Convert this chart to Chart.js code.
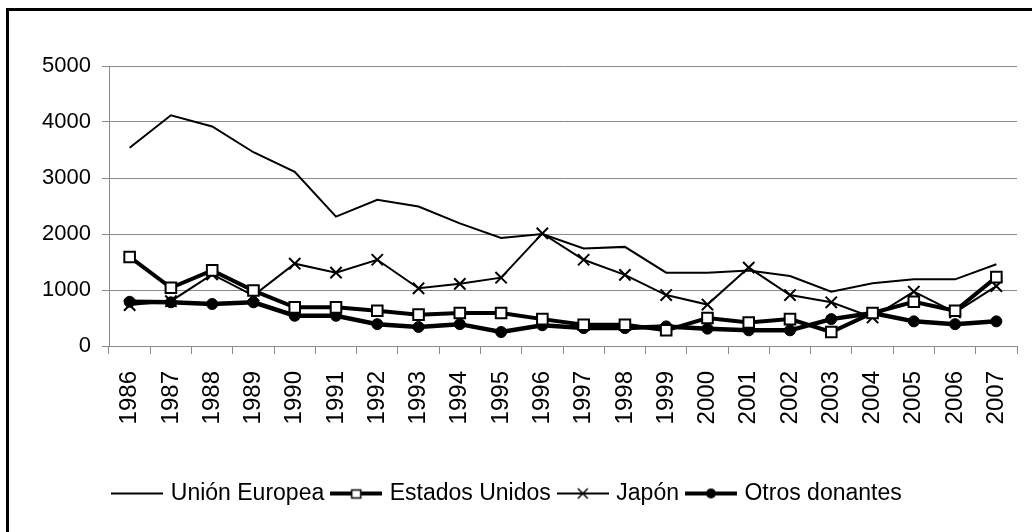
<!DOCTYPE html>
<html>
<head>
<meta charset="utf-8">
<script src="https://cdn.jsdelivr.net/npm/chart.js@4.4.0/dist/chart.umd.min.js"></script>
<style>
body{margin:0;background:#fff;}
#wrap{position:relative;width:1032px;height:532px;overflow:hidden;}
#frame{position:absolute;left:6px;top:8px;width:1040px;height:540px;border-left:3px solid #000;border-top:3px solid #000;pointer-events:none;}
</style>
</head>
<body>
<div id="wrap">
<canvas id="myChart" width="1032" height="532"></canvas>
<div id="frame"></div>
</div>
<script>
var years = ["1986","1987","1988","1989","1990","1991","1992","1993","1994","1995","1996",
             "1997","1998","1999","2000","2001","2002","2003","2004","2005","2006","2007"];
var unionEuropea   = [3540,4120,3920,3460,3110,2310,2610,2490,2190,1930,2000,1740,1770,1310,1310,1350,1250,970,1120,1190,1190,1460];
var estadosUnidos  = [1590,1040,1350,990,690,690,630,560,590,590,480,380,380,280,500,420,480,250,590,790,630,1230];
var japon          = [730,800,1280,900,1470,1310,1540,1030,1110,1220,2010,1540,1270,910,740,1400,910,780,510,970,600,1070];
var otrosDonantes  = [790,780,750,780,540,540,390,340,390,250,370,320,320,350,310,280,280,480,590,440,390,440];
var seriesNames    = ["Unión Europea","Estados Unidos","Japón","Otros donantes"];
var yTicks         = [0,1000,2000,3000,4000,5000];

var fontFam = "'Liberation Sans', Arial, sans-serif";
var gridGray = "#8a8a8a";

// small line+marker pictures for the legend
function makeIcon(lineW, marker){
  var c = document.createElement("canvas");
  c.width = 52; c.height = 16;
  var g = c.getContext("2d");
  g.strokeStyle = "#000"; g.lineWidth = lineW;
  g.beginPath(); g.moveTo(0,8); g.lineTo(52,8); g.stroke();
  g.lineWidth = 1.5;
  if(marker=="rect"){
    g.fillStyle="#fff"; g.fillRect(21.5,4.5,9,8); g.strokeRect(21.5,4.5,9,8);
  } else if(marker=="cross"){
    g.beginPath(); g.moveTo(21,3); g.lineTo(31,13); g.moveTo(31,3); g.lineTo(21,13); g.stroke();
  } else if(marker=="circle"){
    g.fillStyle="#000"; g.beginPath(); g.arc(26,8,5,0,Math.PI*2); g.fill();
  }
  return c;
}
var legendIcons = [makeIcon(2,null), makeIcon(4,"rect"), makeIcon(2,"cross"), makeIcon(4,"circle")];

new Chart("myChart", {
  type: "line",
  data: {
    labels: years,
    datasets: [{
      label: seriesNames[0], data: unionEuropea,
      borderColor: "#000", borderWidth: 2, pointRadius: 0, tension: 0
    },{
      label: seriesNames[1], data: estadosUnidos,
      borderColor: "#000", borderWidth: 4, tension: 0,
      pointStyle: "rect", pointRadius: 7.5, pointBorderWidth: 2,
      pointBackgroundColor: "#fff", pointBorderColor: "#000"
    },{
      label: seriesNames[2], data: japon,
      borderColor: "#000", borderWidth: 2, tension: 0,
      pointStyle: "crossRot", pointRadius: 8, pointBorderWidth: 2,
      pointBorderColor: "#000"
    },{
      label: seriesNames[3], data: otrosDonantes,
      borderColor: "#000", borderWidth: 4.5, tension: 0,
      pointStyle: "circle", pointRadius: 5.5, pointBorderWidth: 1,
      pointBackgroundColor: "#000", pointBorderColor: "#000"
    }]
  },
  options: {
    responsive: false,
    animation: false,
    layout: {padding: {left: 0, right: 15, top: 66, bottom: 17}},
    plugins: {
      tooltip: {enabled: false},
      legend: {
        position: "bottom",
        labels: {
          usePointStyle: true, pointStyleWidth: 44, padding: 10,
          color: "#000", font: {family: fontFam, size: 23},
          generateLabels: function(chart){
            return chart.data.datasets.map(function(ds, i){
              return {text: ds.label, pointStyle: legendIcons[i], fillStyle: "#000",
                      strokeStyle: "#000", lineWidth: 0, hidden: false, datasetIndex: i};
            });
          }
        }
      }
    },
    scales: {
      x: {
        offset: true,
        grid: {offset: true, drawOnChartArea: false, drawTicks: true, tickLength: 8, color: gridGray},
        border: {color: gridGray, width: 1},
        ticks: {color: "#000", font: {family: fontFam, size: 24}, minRotation: 90, maxRotation: 90, padding: 17},
        afterFit: function(s){ s.height = 126; s.paddingLeft = 0; s.paddingRight = 0; }
      },
      y: {
        min: 0, max: 5000,
        afterBuildTicks: function(s){ s.ticks = yTicks.map(function(v){ return {value: v}; }); },
        grid: {color: gridGray, tickLength: 7},
        border: {color: gridGray, width: 1},
        ticks: {color: "#000", font: {family: fontFam, size: 22}, padding: 11,
                callback: function(v){ return String(v); }},
        afterFit: function(s){ s.width = 109; }
      }
    }
  }
});
</script>
</body>
</html>
